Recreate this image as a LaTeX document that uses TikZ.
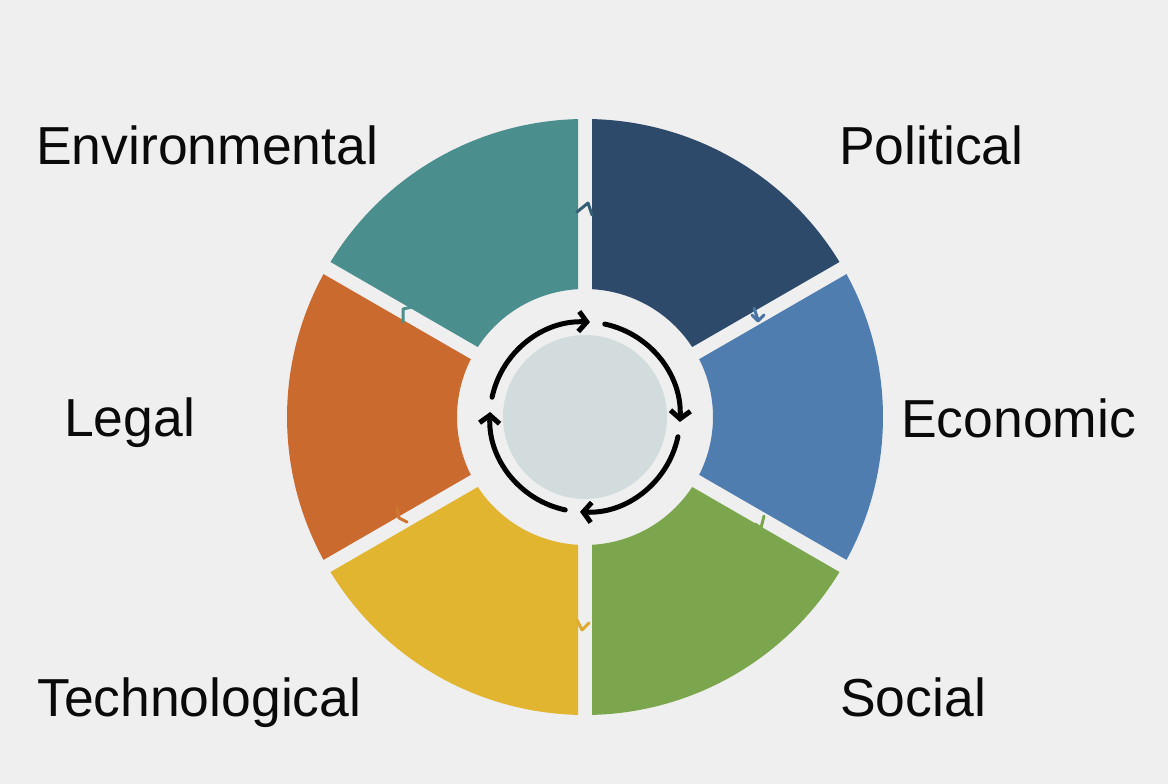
\documentclass[tikz,border=0pt]{standalone}
\usepackage{fontspec}
\setmainfont{Liberation Sans}
\usetikzlibrary{arrows.meta}
\definecolor{bgc}{HTML}{EFEFEF}
\definecolor{polc}{HTML}{2E4A6A}
\definecolor{envc}{HTML}{4A8E8E}
\definecolor{legc}{HTML}{CB6A2F}
\definecolor{tecc}{HTML}{E2B531}
\definecolor{socc}{HTML}{7BA64D}
\definecolor{ecoc}{HTML}{4F7DB0}
\definecolor{discc}{HTML}{D3DCDC}
\definecolor{txtc}{HTML}{0A0A0A}
\begin{document}
\begin{tikzpicture}[x=1pt,y=1pt,
  lab/.style={anchor=base west, inner sep=0pt, text=txtc, font=\fontsize{53.5}{64}\selectfont},
  cyc/.style={line width=5pt, line cap=round, -{Straight Barb[length=8pt,width=20pt]}},
  nick/.style={line width=3pt, line cap=round, line join=round}]
\fill[bgc] (0,0) rectangle (1168,784);
\useasboundingbox (0,0) rectangle (1168,784);
\coordinate (C) at (585,367);
% wedges
\foreach \a/\c in {30/polc,90/envc,150/legc,210/tecc,270/socc,330/ecoc}{
  \fill[\c] ([shift={(C)}]{\a+1.346}:298) arc[start angle={\a+1.346}, end angle={\a+58.654}, radius=298]
    -- ([shift={(C)}]{\a+56.865}:128) arc[start angle={\a+56.865}, end angle={\a+3.135}, radius=128] -- cycle;
}
% inner disc
\fill[discc] (C) circle[radius=82];
% cycle arrows
\draw[cyc] ([shift={(C)}]168:95) arc[start angle=168, end angle=87, radius=95];
\draw[cyc] ([shift={(C)}]78:95) arc[start angle=78, end angle=-3, radius=95];
\draw[cyc] ([shift={(C)}]-12:95) arc[start angle=-12, end angle=-93, radius=95];
\draw[cyc] ([shift={(C)}]-102:95) arc[start angle=-102, end angle=-183, radius=95];
% small marks on the gaps
\draw[nick, draw=polc!70!envc] (577,572) -- (588,581) -- (592,569);
\draw[nick, draw=ecoc!80!polc] (754,476) -- (758,464);
\draw[nick, draw=ecoc!80!polc] (752,469) -- (758,463) -- (764,469);
\draw[nick, draw=socc] (764,268) -- (761,256) -- (755,260);
\draw[nick, draw=tecc!85!legc] (577,164) -- (582,154) -- (589,161);
\draw[nick, draw=legc!85!tecc] (397,276) -- (399,266) -- (407,262);
\draw[nick, draw=envc] (412,477) -- (403,475) -- (403,462);
% labels
\node[lab] (env) at (36,619) {Environmental};
\node[lab] (pol) at (839,619) {Political};
\node[lab] (leg) at (64,347) {Legal};
\node[lab] (eco) at (901,346) {Economic};
\node[lab] (tec) at (37,67) {Technological};
\node[lab] (soc) at (840,67) {Social};
\end{tikzpicture}
\end{document}
